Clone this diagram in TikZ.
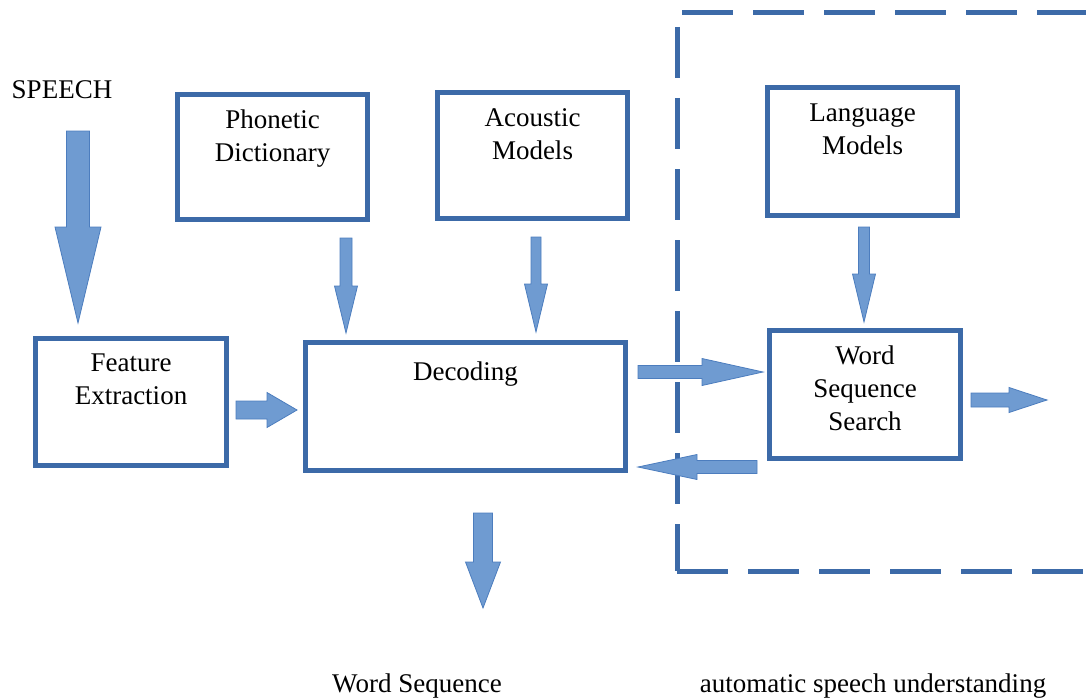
\documentclass[tikz,border=0pt]{standalone}
\usepackage{fontspec}
\setmainfont{Liberation Serif}
\usepackage{tikz}
\usetikzlibrary{positioning}
\usetikzlibrary{calc}

\definecolor{boxblue}{HTML}{3C6AA8}
\definecolor{arrowfill}{HTML}{6F9BD1}
\definecolor{arrowline}{HTML}{4C7DBE}

\tikzset{
  block/.style={rectangle, draw=boxblue, line width=5pt},
  lbl/.style={align=center, inner sep=0pt, font=\fontsize{27}{33}\selectfont},
  barrow/.style={fill=arrowfill, draw=arrowline, line width=0.8pt, line join=miter},
  frame/.style={draw=boxblue, line width=5pt, dash pattern=on 51pt off 20pt}
}

% tail, tip, shaft half width, head half width, head length
\newcommand{\blockarrow}[5]{%
  \coordinate (bh) at ($(#2)!#5pt!(#1)$);
  \filldraw[barrow] ($(#1)!#3pt!90:(#2)$) -- ($(bh)!#3pt!90:(#2)$)
    -- ($(bh)!#4pt!90:(#2)$) -- (#2) -- ($(bh)!#4pt!-90:(#2)$)
    -- ($(bh)!#3pt!-90:(#2)$) -- ($(#1)!#3pt!-90:(#2)$) -- cycle;
}

\begin{document}
\begin{tikzpicture}[x=1pt, y=-1pt]
    \useasboundingbox (0,0) rectangle (1086,698);

    % dashed frame, open on the right
    \draw[frame] (682,13) -- (1100,13);
    \draw[frame] (677,27) -- (677,571);
    \draw[frame] (677,571) -- (1100,571);

    \node[block, minimum width=190pt, minimum height=125pt] (phon) at (272.5,157) {};
    \node[block, minimum width=190pt, minimum height=126pt] (acou) at (532.5,155.5) {};
    \node[block, minimum width=190pt, minimum height=128pt] (lang) at (862.5,151.5) {};
    \node[block, minimum width=191pt, minimum height=127pt] (feat) at (131,402) {};
    \node[block, minimum width=320pt, minimum height=128pt] (dec) at (465.5,406.5) {};
    \node[block, minimum width=191pt, minimum height=128pt] (wss) at (865,394.5) {};

    \node[lbl, below=18pt of phon.north] (phontxt) {Phonetic\\Dictionary};
    \node[lbl, below=18pt of acou.north] (acoutxt) {Acoustic\\Models};
    \node[lbl, below=19pt of lang.north] (langtxt) {Language\\Models};
    \node[lbl, below=18pt of feat.north] (feattxt) {Feature\\Extraction};
    \node[lbl, below=22pt of dec.north] (dectxt) {Decoding};
    \node[lbl, below=18pt of wss.north] (wsstxt) {Word\\Sequence\\Search};

    \node[lbl, anchor=base] (speech) at (62,99) {SPEECH};
    \node[lbl, anchor=base] (wordseq) at (417,692) {Word Sequence};
    \node[lbl, anchor=base] (asu) at (873,692) {automatic speech understanding};

    \coordinate (spT) at (78,131);   \coordinate (spH) at (78,323);
    \coordinate (phT) at (346,238);  \coordinate (phH) at (346,333);
    \coordinate (acT) at (536,237);  \coordinate (acH) at (536,332);
    \coordinate (lmT) at (864,227);  \coordinate (lmH) at (864,322);
    \coordinate (fdT) at (236,410);  \coordinate (fdH) at (297,410);
    \coordinate (dwT) at (638,372);  \coordinate (dwH) at (763,372);
    \coordinate (wdT) at (757,467);  \coordinate (wdH) at (638,467);
    \coordinate (woT) at (971,400);  \coordinate (woH) at (1047,400);
    \coordinate (doT) at (483,513);  \coordinate (doH) at (483,608);

    \blockarrow{spT}{spH}{11.5}{23}{96}
    \blockarrow{phT}{phH}{6}{11.5}{47}
    \blockarrow{acT}{acH}{5}{11.5}{48}
    \blockarrow{lmT}{lmH}{5.5}{11.5}{48}
    \blockarrow{fdT}{fdH}{9}{17.5}{30}
    \blockarrow{dwT}{dwH}{6.5}{13.5}{61}
    \blockarrow{wdT}{wdH}{6.5}{12.5}{59}
    \blockarrow{woT}{woH}{7}{12.5}{38}
    \blockarrow{doT}{doH}{9.5}{17.5}{46}
\end{tikzpicture}
\end{document}
